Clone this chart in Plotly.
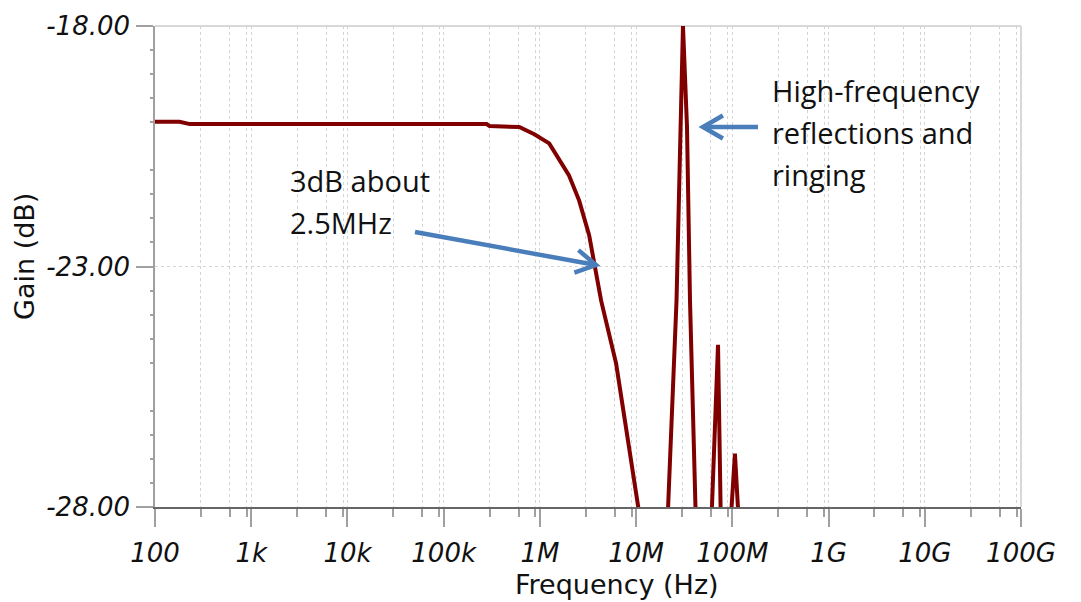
import math
import plotly.graph_objects as go

# ---------------- data ----------------
freq_hz = [100, 180, 230, 280e3, 300e3, 450e3, 610e3, 875e3, 1.25e6, 2.0e6,
           2.56e6, 3.25e6, 3.76e6, 4.33e6, 6.2e6, 10.2e6, 15e6,
           21.5e6, 26.3e6, 30.7e6, 33.8e6, 36.3e6, 41.4e6, 50e6,
           61.4e6, 71.0e6, 75.5e6, 85e6,
           97.5e6, 106.4e6, 114.3e6, 200e6, 1e9, 1e10, 1e11]
gain_db = [-19.99, -19.99, -20.04, -20.04, -20.08, -20.08, -20.10, -20.25, -20.44, -21.10,
           -21.63, -22.35, -23.00, -23.71, -25.02, -28.00, -30.0,
           -28.00, -23.71, -18.00, -20.10, -23.70, -28.00, -30.0,
           -28.00, -24.63, -28.00, -30.0,
           -28.00, -26.89, -28.00, -32.0, -40.0, -45.0, -50.0]

x_tick_vals = [1e2, 1e3, 1e4, 1e5, 1e6, 1e7, 1e8, 1e9, 1e10, 1e11]
x_tick_text = ["100", "1k", "10k", "100k", "1M", "10M", "100M", "1G", "10G", "100G"]
x_minor_mult = [3, 6, 9]
y_tick_vals = [-18, -23, -28]
y_tick_text = ["-18.00", "-23.00", "-28.00"]
y_minor_vals = [-18.5, -19.0, -19.5, -20.0, -21.0, -21.5, -22.0, -22.5,
                -23.5, -24.0, -24.5, -25.0, -26.0, -26.5, -27.0, -27.5]
y_mid_vals = [-20.5, -25.5]

x_title = "Frequency (Hz)"
y_title = "Gain (dB)"
note_left = ["3dB about", "2.5MHz"]
note_right = ["High-frequency", "reflections and", "ringing"]

# ---------------- layout geometry ----------------
W, H = 1081, 602
ML, MR, MT, MB = 155, 60, 26, 95
PW, PH = W - ML - MR, H - MT - MB


def px(xp):
    return (xp - ML) / PW


def py(yp):
    return (H - MB - yp) / PH


x_minor_vals = [m * d for d in x_tick_vals[:-1] for m in x_minor_mult]

tick_font = dict(family="DejaVu Sans", size=26, color="#111111", style="italic")
title_font = dict(family="DejaVu Sans", size=27, color="#111111")
note_font = dict(family="Open Sans", size=29, color="#111111")
grid_col = "#d4d4d4"
curve_col = "#800000"
arrow_col = "#4a7ebb"

fig = go.Figure()
fig.add_trace(go.Scatter(x=freq_hz, y=gain_db, mode="lines",
                         line=dict(color=curve_col, width=4),
                         showlegend=False, hoverinfo="skip"))

fig.update_layout(
    width=W, height=H,
    margin=dict(l=ML, r=MR, t=MT, b=MB, pad=0),
    paper_bgcolor="white", plot_bgcolor="white",
    showlegend=False,
    xaxis=dict(
        type="log", range=[2, 11], fixedrange=True,
        showline=True, linecolor="#666666", linewidth=1.5,
        tickmode="array", tickvals=x_tick_vals, ticktext=x_tick_text,
        ticks="outside", ticklen=18, tickcolor="#a0a0a0", tickwidth=1.5,
        tickfont=tick_font, ticklabelstandoff=4,
        showgrid=True, gridcolor=grid_col, griddash="dot", gridwidth=1,
        zeroline=False,
        minor=dict(tickmode="array", tickvals=x_minor_vals, ticks="outside",
                   ticklen=8, tickcolor="#a0a0a0", tickwidth=1.5,
                   showgrid=True, gridcolor=grid_col, griddash="dot", gridwidth=1),
    ),
    yaxis=dict(
        range=[-28, -18], fixedrange=True,
        showline=True, linecolor="#a0a0a0", linewidth=1.5,
        tickmode="array", tickvals=y_tick_vals, ticktext=y_tick_text,
        ticks="outside", ticklen=17, tickcolor="#a0a0a0", tickwidth=1.5,
        tickfont=tick_font, ticklabelstandoff=1,
        showgrid=True, gridcolor=grid_col, griddash="dot", gridwidth=1,
        zeroline=False,
        minor=dict(tickmode="array", tickvals=y_minor_vals, ticks="outside",
                   ticklen=3, tickcolor="#a0a0a0", tickwidth=1.5, showgrid=False),
    ),
    yaxis2=dict(
        range=[-28, -18], overlaying="y", side="left", anchor="x",
        tickmode="array", tickvals=y_mid_vals, ticks="outside", ticklen=8,
        tickcolor="#a0a0a0", tickwidth=1.5, showticklabels=False,
        showgrid=False, showline=False, zeroline=False, fixedrange=True,
    ),
)

# light frame along the top and right of the plot area
fig.add_shape(type="line", xref="paper", yref="paper", x0=0, x1=1, y0=1, y1=1,
              line=dict(color="#d8d8d8", width=2), layer="below")
fig.add_shape(type="line", xref="paper", yref="paper", x0=1, x1=1, y0=0, y1=1,
              line=dict(color="#d8d8d8", width=2), layer="below")

# axis titles (placed where the reference has them)
fig.add_annotation(text=x_title, xref="paper", yref="paper", x=px(617), y=py(584),
                   xanchor="center", yanchor="middle", showarrow=False, font=title_font)
fig.add_annotation(text=y_title, xref="paper", yref="paper", x=px(24), y=py(257),
                   xanchor="center", yanchor="middle", textangle=-90,
                   showarrow=False, font=title_font)


def arrow(tail, head, length=23, ang=30):
    tx, ty = tail
    hx, hy = head
    d = math.hypot(tx - hx, ty - hy)
    ux, uy = (tx - hx) / d, (ty - hy) / d
    pts = []
    for s in (1, -1):
        a = math.radians(ang * s)
        vx = ux * math.cos(a) - uy * math.sin(a)
        vy = ux * math.sin(a) + uy * math.cos(a)
        pts.append((hx + vx * length, hy + vy * length))
    fig.add_shape(type="line", xref="paper", yref="paper",
                  x0=px(tx), y0=py(ty), x1=px(hx), y1=py(hy),
                  line=dict(color=arrow_col, width=4.5))
    path = "M {} {} L {} {} L {} {}".format(px(pts[0][0]), py(pts[0][1]),
                                          px(hx), py(hy),
                                          px(pts[1][0]), py(pts[1][1]))
    fig.add_shape(type="path", xref="paper", yref="paper", path=path,
                  line=dict(color=arrow_col, width=4.5))


arrow((415, 232), (596, 265))
arrow((758, 127), (703, 127))


def note(lines, x_left, y_centers):
    for t, yc in zip(lines, y_centers):
        fig.add_annotation(text=t, xref="paper", yref="paper",
                           x=px(x_left), y=py(yc), xanchor="left", yanchor="middle",
                           showarrow=False, font=note_font, align="left")


note(note_left, 288, [181, 223])
note(note_right, 770, [90, 132, 174])

fig.write_html("out.html")
